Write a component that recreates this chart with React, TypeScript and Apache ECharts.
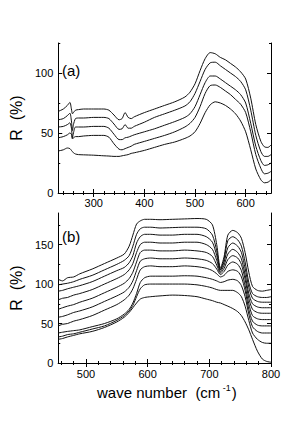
import React, { useEffect, useRef } from "react";
import * as echarts from "echarts";

// ---------- Panel (a) ----------
const waveA = [230, 240, 248, 253, 256, 258, 260, 264, 270, 280, 300, 320, 330, 340, 350, 356, 362, 368, 374, 380, 400, 420, 440, 460, 480, 490, 500, 510, 520, 530, 540, 550, 560, 570, 580, 590, 600, 610, 620, 630, 637, 644, 650];
const a1 = [68, 70, 73, 75.5, 70, 66, 67, 69, 69.5, 70, 70, 70, 69, 65, 61, 62, 67, 63, 62, 63.5, 67, 70, 73, 76, 80, 84, 91, 102, 112, 117, 116, 113, 111, 108, 105, 101, 95, 79, 57, 43, 38.5, 38, 40];
const a2 = [61, 62, 64.5, 66.5, 60, 52, 57, 62, 62.5, 62.5, 63, 63, 62, 57.5, 53, 53.5, 57, 54, 54, 55.5, 59, 63, 66, 69, 72.5, 76, 83, 93, 103, 108.5, 109, 106, 103, 100, 97, 93, 86, 69, 48, 34.5, 30.5, 30.5, 32];
const a3 = [55, 55.5, 57, 58.5, 54, 46, 50, 55, 55, 55, 55.5, 55.5, 54, 49, 44.5, 44.5, 46, 46.5, 47.5, 48.5, 51, 53.5, 56.5, 59.5, 63, 66, 72, 82, 92, 97.5, 97.5, 95, 92, 89, 86, 82, 75, 58, 39, 27, 23, 23.5, 25];
const a4 = [46, 47, 48.5, 50, 49, 45, 46, 47, 47, 47.5, 48, 48, 46.5, 41, 36.5, 36, 37, 38, 39, 40.5, 43, 45.5, 48, 51, 55, 58, 63, 72, 83, 89.5, 90, 88, 85, 82, 78, 74, 67, 51, 32, 20.5, 16, 16.5, 18];
const a5 = [35, 36, 37.5, 37, 35.5, 34.5, 33.5, 32.5, 32, 31.8, 31.5, 31, 30.8, 30.5, 30.5, 31, 31.5, 32, 33, 33.5, 35.5, 38, 40.5, 42.5, 45.5, 47.5, 51, 58, 67, 73.5, 76, 75, 73, 70, 66, 60, 51, 36, 20, 11, 8.5, 9, 11];
const xLabelsA = [300, 400, 500, 600];
const xMinorA = [240, 260, 280, 320, 340, 360, 380, 420, 440, 460, 480, 520, 540, 560, 580, 620, 640];
const yLabelsA = [0, 50, 100];
const yMinorA = [25, 75, 125];

// ---------- Panel (b) ----------
const waveB = [455, 462, 470, 480, 490, 510, 530, 550, 562, 570, 576, 582, 588, 595, 605, 620, 640, 660, 680, 695, 705, 712, 718, 724, 730, 738, 746, 752, 758, 764, 770, 778, 786, 793, 800];
const b1 = [106, 104, 108, 109, 113, 119, 126, 133, 138, 148, 162, 176, 180, 182, 182, 181.5, 182, 182.5, 183, 182, 175, 150, 120, 135, 162, 168, 165, 158, 140, 115, 97, 92, 91, 92, 93];
const b2 = [99, 100, 101, 103, 106, 111, 118, 125, 130, 136, 148, 163, 170, 172, 172, 171, 171.5, 172, 172, 170, 162, 142, 118, 132, 155, 160, 156, 148, 128, 102, 88, 84, 83, 83, 84];
const b3 = [91, 92, 94, 96, 98, 103, 110, 117, 121, 127, 136, 152, 160, 163, 163, 162, 162, 163, 163, 160, 153, 136, 118, 128, 146, 152, 148, 140, 120, 96, 82, 78, 77, 77, 77];
const b4 = [80, 82, 83, 86, 88, 93, 100, 107, 112, 118, 126, 140, 150, 153, 153, 152, 152, 153, 153, 150, 144, 130, 116, 124, 138, 144, 140, 132, 112, 88, 75, 71, 70, 70, 70];
const b5 = [68, 70, 72, 74, 77, 82, 89, 96, 101, 107, 115, 128, 140, 143, 143, 142, 142, 143, 142, 140, 135, 124, 114, 120, 131, 136, 133, 125, 106, 82, 68, 64, 63, 63, 63];
const b6 = [58, 59, 61, 64, 66, 71, 78, 85, 90, 96, 104, 117, 129, 132, 133, 132, 132, 133, 132, 130, 126, 119, 112, 116, 124, 128, 125, 117, 98, 75, 60, 56, 55, 55, 55];
const b7 = [47, 49, 50, 53, 55, 60, 67, 74, 80, 86, 94, 106, 118, 122, 123, 122, 122, 123, 122, 120, 117, 113, 109, 111, 116, 118, 116, 109, 92, 68, 53, 48, 47, 47, 47];
const b8 = [38, 39, 40, 41, 42, 46, 50, 56, 62, 68, 76, 88, 102, 108, 110, 110, 110, 110.5, 110, 108, 106, 104, 102, 103, 105, 106, 104, 98, 84, 62, 46, 40, 38, 38, 38];
const b9 = [33, 34, 36, 37, 39, 43, 47, 54, 60, 66, 73, 84, 94, 99, 100, 100, 100, 100, 99, 97, 95, 93, 92, 92, 92, 92, 89, 84, 72, 54, 38, 30, 26, 25, 25];
const b10 = [30, 31, 33, 35, 37, 40, 45, 52, 58, 64, 70, 76, 81, 83, 84, 85, 86, 85.5, 84, 81, 79, 77, 76, 74, 72, 69, 65, 60, 52, 42, 30, 15, 5, 2, 1];
const xLabelsB = [500, 600, 700, 800];
const xMinorB = [460, 480, 520, 540, 560, 580, 620, 640, 660, 680, 720, 740, 760, 780];
const yLabelsB = [0, 50, 100, 150];
const yMinorB = [25, 75, 125, 175];

const FONT = "Liberation Sans, Arial, Helvetica, sans-serif";

function pairs(xs: number[], ys: number[]) {
  return xs.map((x, i) => [x, ys[i]]);
}

export default function App() {
  const ref = useRef<HTMLDivElement>(null);
  useEffect(() => {
    if (!ref.current) return;
    const chart = echarts.init(ref.current, undefined, { renderer: "svg" });

    const grids = [
      { left: 45, top: 43, width: 226, height: 150 },
      { left: 45, top: 213, width: 226, height: 150 },
    ];
    const lineStyle = { color: "#000", width: 1 };
    const label = { fontSize: 11, color: "#000", fontFamily: FONT };

    function xAxes(g: number, min: number, max: number, majors: number[], minors: number[], margin: number) {
      const base = { gridIndex: g, type: "value", min, max, splitLine: { show: false } };
      return [
        { ...base, position: "bottom", axisLine: { show: true, lineStyle }, axisTick: { show: true, inside: true, length: 4, lineStyle, customValues: majors }, axisLabel: { ...label, margin, customValues: majors } },
        { ...base, position: "bottom", axisLine: { show: false }, axisTick: { show: true, inside: true, length: 2, lineStyle, customValues: minors }, axisLabel: { show: false } },
        { ...base, position: "top", axisLine: { show: true, lineStyle }, axisTick: { show: true, inside: true, length: 4, lineStyle, customValues: majors }, axisLabel: { show: false } },
        { ...base, position: "top", axisLine: { show: false }, axisTick: { show: true, inside: true, length: 2, lineStyle, customValues: minors }, axisLabel: { show: false } },
      ];
    }
    function yAxes(g: number, min: number, max: number, majors: number[], minors: number[]) {
      const base = { gridIndex: g, type: "value", min, max, splitLine: { show: false } };
      return [
        { ...base, position: "left", name: "R  (%)", nameLocation: "middle", nameGap: 28, nameRotate: 90, nameTextStyle: { fontSize: 16, color: "#000", fontFamily: FONT }, axisLine: { show: true, lineStyle }, axisTick: { show: true, inside: true, length: 4, lineStyle, customValues: majors }, axisLabel: { ...label, margin: 5, customValues: majors } },
        { ...base, position: "left", axisLine: { show: false }, axisTick: { show: true, inside: true, length: 2, lineStyle, customValues: minors }, axisLabel: { show: false } },
        { ...base, position: "right", axisLine: { show: true, lineStyle }, axisTick: { show: true, inside: true, length: 4, lineStyle, customValues: majors }, axisLabel: { show: false } },
        { ...base, position: "right", axisLine: { show: false }, axisTick: { show: true, inside: true, length: 2, lineStyle, customValues: minors }, axisLabel: { show: false } },
      ];
    }

    const seriesA = [a1, a2, a3, a4, a5].map((ys) => ({
      type: "line", xAxisIndex: 0, yAxisIndex: 0, data: pairs(waveA, ys), showSymbol: false, symbol: "none",
      smooth: 0.25, lineStyle: { color: "#111", width: 1 }, silent: true,
    }));
    const seriesB = [b1, b2, b3, b4, b5, b6, b7, b8, b9, b10].map((ys) => ({
      type: "line", xAxisIndex: 4, yAxisIndex: 4, data: pairs(waveB, ys), showSymbol: false, symbol: "none",
      smooth: 0.25, lineStyle: { color: "#111", width: 1 }, silent: true,
    }));

    chart.setOption({
      animation: false,
      backgroundColor: "#fff",
      grid: grids,
      xAxis: [...xAxes(0, 230, 650, xLabelsA, xMinorA, 4), ...xAxes(1, 455, 800, xLabelsB, xMinorB, 5)],
      yAxis: [...yAxes(0, 0, 125, yLabelsA, yMinorA), ...yAxes(1, 0, 190, yLabelsB, yMinorB)],
      series: [...seriesA, ...seriesB],
      graphic: [
        { type: "text", left: 62, top: 63, style: { text: "(a)", fontSize: 15, fill: "#000", fontFamily: FONT } },
        { type: "text", left: 62, top: 229, style: { text: "(b)", fontSize: 15, fill: "#000", fontFamily: FONT } },
        {
          type: "text", left: 97, top: 383,
          style: {
            text: "{a|wave number  (cm}{s| -1}{a|)}",
            rich: {
              a: { fontSize: 15, fill: "#000", fontFamily: FONT },
              s: { fontSize: 9, fill: "#000", fontFamily: FONT, padding: [0, 1, 9, 0] },
            },
          },
        },
      ],
    });
    return () => chart.dispose();
  }, []);
  return <div ref={ref} style={{ position: "fixed", left: 0, top: 0, width: 300, height: 427 }} />;
}
